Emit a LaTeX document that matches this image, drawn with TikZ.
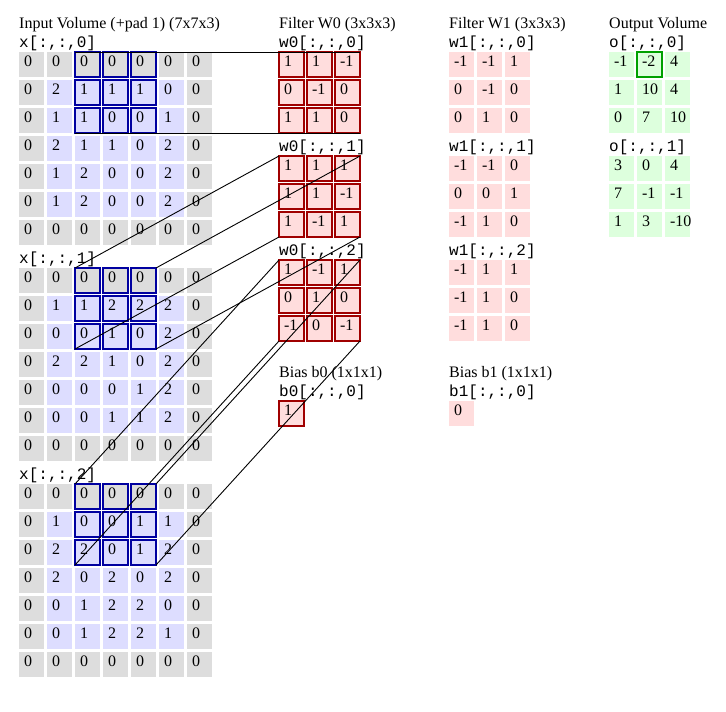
\documentclass[tikz,border=0pt]{standalone}
\usepackage{fontspec}
\setmainfont{Liberation Serif}
\newfontfamily\monofont{Liberation Mono}
\definecolor{padgray}{RGB}{221,221,221}
\definecolor{inblue}{RGB}{221,221,255}
\definecolor{wpink}{RGB}{255,221,221}
\definecolor{ogreen}{RGB}{221,255,221}
\definecolor{winblue}{RGB}{0,0,160}
\definecolor{wred}{RGB}{160,0,0}
\definecolor{ogreenb}{RGB}{0,160,0}

% input grid: name, top, rows
\newcommand\ingrid[3]{%
  \foreach \rowvals [count=\rr from 0] in {#3} {
    \foreach \val [count=\cc from 0] in \rowvals {
      \pgfmathtruncatemacro\ispad{(\rr==0)||(\rr==6)||(\cc==0)||(\cc==6)}
      \pgfmathtruncatemacro\iswin{(\rr<3)&&(\cc>1)&&(\cc<5)}
      \ifnum\ispad=1
        \ifnum\iswin=1 \def\sty{padwin}\else\def\sty{padcell}\fi
      \else
        \ifnum\iswin=1 \def\sty{inwin}\else\def\sty{incell}\fi
      \fi
      \node[\sty] (#1-\rr-\cc) at (19+28*\cc, #2+28*\rr) {\makebox[15pt][l]{\val}};
    }
  }%
}
% generic grid: name, left, top, style, rows
\newcommand\gengrid[5]{%
  \foreach \rowvals [count=\rr from 0] in {#5} {
    \foreach \val [count=\cc from 0] in \rowvals {
      \node[#4] (#1-\rr-\cc) at (#2+28*\cc, #3+28*\rr) {\makebox[15pt][l]{\val}};
    }
  }%
}

\begin{document}
\begin{tikzpicture}[x=1pt,y=-1pt,
  cellbase/.style={rectangle, anchor=north west, minimum width=25pt, minimum height=25pt,
    inner sep=0pt, outer sep=0pt, text height=11pt, text depth=8pt,
    font=\fontsize{16}{19}\selectfont},
  padcell/.style={cellbase, fill=padgray},
  incell/.style={cellbase, fill=inblue},
  padwin/.style={padcell, draw=winblue, line width=2pt},
  inwin/.style={incell, draw=winblue, line width=2pt},
  wcell/.style={cellbase, fill=wpink, draw=wred, line width=2pt},
  w1cell/.style={cellbase, fill=wpink},
  ocell/.style={cellbase, fill=ogreen},
  ohlbox/.style={draw=ogreenb, line width=2pt},
  title/.style={anchor=base west, inner sep=0pt, font=\fontsize{16}{19}\selectfont},
  slab/.style={anchor=base west, inner sep=0pt, font=\monofont\fontsize{16}{19}\selectfont},
  link/.style={draw=black, line width=0.9pt}
]
\useasboundingbox (0,0) rectangle (726,712);

% titles and labels
\node[title] (tin) at (19,28) {Input Volume (+pad 1) (7x7x3)};
\node[slab] (lx0) at (19,47) {x[:,:,0]};
\node[slab] (lx1) at (19,263) {x[:,:,1]};
\node[slab] (lx2) at (19,479) {x[:,:,2]};

\node[title] (tw0) at (279,28) {Filter W0 (3x3x3)};
\node[slab] (lw00) at (279,47) {w0[:,:,0]};
\node[slab] (lw01) at (279,151) {w0[:,:,1]};
\node[slab] (lw02) at (279,255) {w0[:,:,2]};
\node[title] (tb0) at (279,377) {Bias b0 (1x1x1)};
\node[slab] (lb0) at (279,396) {b0[:,:,0]};

\node[title] (tw1) at (449,28) {Filter W1 (3x3x3)};
\node[slab] (lw10) at (449,47) {w1[:,:,0]};
\node[slab] (lw11) at (449,151) {w1[:,:,1]};
\node[slab] (lw12) at (449,255) {w1[:,:,2]};
\node[title] (tb1) at (449,377) {Bias b1 (1x1x1)};
\node[slab] (lb1) at (449,396) {b1[:,:,0]};

\node[title] (tout) at (609,28) {Output Volume};
\node[slab] (lo0) at (609,47) {o[:,:,0]};
\node[slab] (lo1) at (609,151) {o[:,:,1]};

% input volume
\ingrid{xs0}{52}{{0,0,0,0,0,0,0},{0,2,1,1,1,0,0},{0,1,1,0,0,1,0},{0,2,1,1,0,2,0},{0,1,2,0,0,2,0},{0,1,2,0,0,2,0},{0,0,0,0,0,0,0}}
\ingrid{xs1}{268}{{0,0,0,0,0,0,0},{0,1,1,2,2,2,0},{0,0,0,1,0,2,0},{0,2,2,1,0,2,0},{0,0,0,0,1,2,0},{0,0,0,1,1,2,0},{0,0,0,0,0,0,0}}
\ingrid{xs2}{484}{{0,0,0,0,0,0,0},{0,1,0,0,1,1,0},{0,2,2,0,1,2,0},{0,2,0,2,0,2,0},{0,0,1,2,2,0,0},{0,0,1,2,2,1,0},{0,0,0,0,0,0,0}}

% filter W0
\gengrid{ws0}{279}{52}{wcell}{{1,1,-1},{0,-1,0},{1,1,0}}
\gengrid{ws1}{279}{156}{wcell}{{1,1,1},{1,1,-1},{1,-1,1}}
\gengrid{ws2}{279}{260}{wcell}{{1,-1,1},{0,1,0},{-1,0,-1}}
\node[wcell] (b0) at (279,401) {\makebox[15pt][l]{1}};

% filter W1
\gengrid{vs0}{449}{52}{w1cell}{{-1,-1,1},{0,-1,0},{0,1,0}}
\gengrid{vs1}{449}{156}{w1cell}{{-1,-1,0},{0,0,1},{-1,1,0}}
\gengrid{vs2}{449}{260}{w1cell}{{-1,1,1},{-1,1,0},{-1,1,0}}
\node[w1cell] (b1) at (449,401) {\makebox[15pt][l]{0}};

% output
\gengrid{os0}{609}{52}{ocell}{{-1,-2,4},{1,10,4},{0,7,10}}
\gengrid{os1}{609}{156}{ocell}{{3,0,4},{7,-1,-1},{1,3,-10}}
\draw[ohlbox] (os0-0-1.north west) rectangle (os0-0-1.south east);

% connectors from input window corners to filter corners
\foreach \s in {0,1,2} {
  \draw[link] (xs\s-0-2.north west) -- (ws\s-0-0.north west);
  \draw[link] (xs\s-0-4.north east) -- (ws\s-0-2.north east);
  \draw[link] (xs\s-2-2.south west) -- (ws\s-2-0.south west);
  \draw[link] (xs\s-2-4.south east) -- (ws\s-2-2.south east);
}
\end{tikzpicture}
\end{document}
